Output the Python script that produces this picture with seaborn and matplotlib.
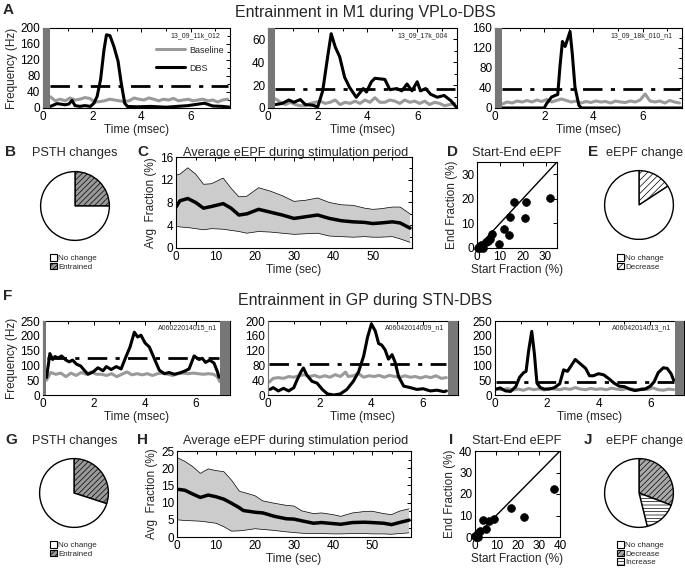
import numpy as np
import pandas as pd
import matplotlib
matplotlib.use('Agg')
import matplotlib.pyplot as plt
import seaborn as sns
from matplotlib.patches import Patch
from matplotlib.ticker import MultipleLocator, AutoMinorLocator

sns.set_theme(style='white')
plt.rcParams['font.family'] = ['Liberation Sans', 'DejaVu Sans']
plt.rcParams['hatch.linewidth'] = 0.5
plt.rcParams['axes.linewidth'] = 0.8

# ---------------- data ----------------
# A: M1 PSTHs (time in msec, frequency in Hz)
a1_dbs_t = [0.3, 0.57, 0.9, 1.05, 1.18, 1.3, 1.5, 1.7, 1.93, 2.07, 2.2, 2.34, 2.48, 2.58, 2.72, 2.88, 3.05, 3.18, 3.32, 3.43, 3.8, 4.38, 5.0, 5.9, 6.56, 6.9, 7.3, 7.6]
a1_dbs_f = [4, 11, 8, 10, 19, 6, 4, 6, 4, 12, 29, 71, 146, 183, 181, 154, 117, 62, 12, 4, 3, 4, 2, 6, 12, 5, 4, 2]
a2_dbs_t = [0.3, 0.57, 0.84, 1.04, 1.3, 1.5, 1.8, 2.0, 2.2, 2.4, 2.54, 2.71, 2.88, 3.08, 3.28, 3.55, 3.83, 3.96, 4.16, 4.3, 4.7, 4.9, 5.18, 5.38, 5.59, 5.79, 6.0, 6.13, 6.34, 6.54, 6.81, 7.08, 7.35, 7.6]
a2_dbs_f = [3, 4, 7, 5, 7.4, 3, 2.4, 1, 15, 45, 65, 53, 45, 27, 18, 9.4, 17, 14, 23, 26, 25, 16, 17, 15, 21, 15, 23, 15, 17, 12, 9.4, 11, 6.5, 0]
a3_dbs_t = [0.3, 1.0, 2.0, 2.1, 2.3, 2.44, 2.55, 2.64, 2.74, 2.85, 2.95, 3.05, 3.14, 3.25, 3.41, 3.52, 5.0, 7.6]
a3_dbs_f = [0, 0, 0, 9, 22, 25, 27, 83, 133, 123, 138, 153, 109, 42, 5, 0, 0, 0]
base_t = [0.3, 0.5, 0.7, 0.9, 1.1, 1.3, 1.5, 1.7, 1.9, 2.1, 2.3, 2.5, 2.7, 2.9, 3.1, 3.3, 3.5, 3.7, 3.9, 4.1, 4.3, 4.5, 4.7, 4.9, 5.1, 5.3, 5.5, 5.7, 5.9, 6.1, 6.3, 6.5, 6.7, 6.9, 7.1, 7.3, 7.5]
a1_base_f = [28, 18, 22, 18, 25, 20, 22, 26, 24, 15, 16, 18, 22, 20, 18, 16, 18, 25, 22, 20, 25, 22, 18, 22, 20, 24, 18, 20, 22, 18, 20, 22, 18, 20, 15, 20, 22]
a2_base_f = [8, 5, 3, 5, 3, 2, 2, 4, 5, 6, 4, 5, 7, 3, 5, 4, 6, 4, 7, 5, 9, 5, 5, 7, 6, 4, 7, 5, 6, 4, 6, 3, 5, 4, 2, 3, 4]
a3_base_f = [8, 12, 10, 14, 12, 15, 12, 16, 13, 17, 12, 15, 18, 15, 12, 14, 10, 13, 11, 14, 12, 13, 10, 14, 12, 11, 14, 12, 16, 28, 14, 12, 14, 10, 15, 12, 10]
a_thresh = [55, 17, 39]
a_cells = ['13_09_11k_012', '13_09_17k_004', '13_09_18k_010_n1']

# F: GP PSTHs
f1_dbs_t = [0.14, 0.27, 0.38, 0.47, 0.6, 0.73, 0.9, 1.03, 1.16, 1.32, 1.48, 1.64, 1.77, 1.97, 2.16, 2.36, 2.49, 2.68, 2.88, 3.07, 3.24, 3.42, 3.59, 3.72, 3.85, 4.01, 4.18, 4.38, 4.57, 4.77, 4.96, 5.16, 5.35, 5.55, 5.74, 5.94, 6.13, 6.26, 6.39, 6.55, 6.72, 6.85, 6.92]
f1_dbs_f = [59, 140, 120, 130, 125, 132, 118, 112, 118, 104, 98, 82, 70, 78, 92, 82, 96, 86, 96, 88, 125, 162, 212, 196, 202, 176, 162, 122, 84, 72, 76, 70, 74, 80, 88, 132, 120, 124, 110, 118, 108, 80, 60]
f1_base_t = [0.14, 0.3, 0.5, 0.7, 0.9, 1.1, 1.3, 1.5, 1.7, 1.9, 2.1, 2.3, 2.5, 2.7, 2.9, 3.1, 3.3, 3.5, 3.7, 3.9, 4.1, 4.3, 4.5, 4.7, 4.9, 5.1, 5.3, 5.5, 5.7, 5.9, 6.1, 6.3, 6.5, 6.7, 6.85, 6.95]
f1_base_f = [50, 76, 70, 74, 62, 74, 66, 76, 70, 78, 70, 70, 66, 72, 62, 70, 78, 68, 72, 68, 72, 66, 72, 74, 70, 66, 72, 74, 72, 74, 72, 70, 72, 70, 62, 45]
f2_dbs_t = [0.08, 0.2, 0.4, 0.6, 0.8, 1.0, 1.1, 1.27, 1.37, 1.5, 1.7, 1.9, 2.1, 2.3, 2.55, 2.8, 3.05, 3.3, 3.5, 3.7, 3.85, 4.0, 4.15, 4.28, 4.4, 4.53, 4.66, 4.8, 4.92, 5.05, 5.25, 5.5, 5.76, 6.0, 6.28, 6.54, 6.8, 6.9]
f2_dbs_f = [15, 20, 11, 18, 11, 20, 37, 62, 73, 54, 37, 32, 15, 3, 0, 3, 15, 37, 62, 105, 156, 192, 173, 139, 135, 122, 97, 109, 88, 50, 24, 20, 15, 17, 11, 13, 9, 11]
f2_base_t = [0.05, 0.2, 0.4, 0.6, 0.8, 1.0, 1.2, 1.4, 1.6, 1.8, 2.0, 2.2, 2.4, 2.6, 2.8, 3.0, 3.1, 3.3, 3.5, 3.7, 3.9, 4.1, 4.3, 4.5, 4.7, 4.9, 5.1, 5.3, 5.5, 5.7, 5.9, 6.1, 6.3, 6.5, 6.7, 6.9]
f2_base_f = [35, 45, 47, 45, 50, 48, 52, 55, 50, 53, 48, 52, 48, 55, 50, 62, 50, 52, 58, 48, 52, 50, 53, 48, 53, 50, 48, 52, 48, 50, 46, 50, 47, 52, 45, 47]
f3_dbs_t = [0.05, 0.2, 0.4, 0.6, 0.8, 0.95, 1.1, 1.2, 1.3, 1.42, 1.52, 1.62, 1.75, 1.9, 2.1, 2.3, 2.5, 2.65, 2.8, 2.95, 3.1, 3.3, 3.5, 3.65, 3.8, 4.0, 4.2, 4.4, 4.6, 4.8, 5.0, 5.2, 5.4, 5.6, 5.8, 6.0, 6.15, 6.3, 6.5, 6.65, 6.8, 6.9]
f3_dbs_f = [20, 24, 14, 12, 28, 60, 75, 80, 150, 215, 140, 40, 25, 20, 20, 25, 38, 85, 80, 100, 120, 105, 90, 65, 65, 72, 68, 55, 40, 30, 28, 20, 15, 18, 20, 30, 45, 75, 92, 90, 72, 50]
f3_base_t = [0.05, 0.3, 0.5, 0.7, 0.9, 1.1, 1.3, 1.5, 1.7, 1.9, 2.1, 2.3, 2.5, 2.7, 2.9, 3.1, 3.3, 3.5, 3.7, 3.9, 4.1, 4.3, 4.5, 4.7, 4.9, 5.1, 5.3, 5.5, 5.7, 5.9, 6.1, 6.3, 6.5, 6.7, 6.9]
f3_base_f = [20, 18, 22, 17, 20, 16, 22, 18, 21, 17, 23, 20, 18, 22, 19, 25, 20, 18, 22, 19, 21, 18, 23, 20, 18, 22, 20, 17, 22, 19, 24, 18, 16, 20, 18]
f_thresh = [125, 85, 45]
f_cells = ['A06022014015_n1', 'A06042014009_n1', 'A06042014013_n1']

# C / H: average eEPF (time in sec, fraction in %)
c_t = [0, 1, 3, 5, 7, 9, 12, 14, 16, 18, 21, 24, 27, 30, 33, 36, 39, 42, 45, 48, 50, 52, 55, 57, 59.5]
c_mean = [7.2, 8.3, 8.7, 8.0, 7.0, 7.3, 7.8, 7.0, 5.8, 6.0, 6.8, 6.3, 5.8, 5.2, 5.5, 5.8, 5.2, 4.8, 4.6, 4.5, 4.3, 4.4, 4.6, 4.4, 3.5]
c_up = [12.8, 13.0, 14.1, 13.0, 11.2, 11.3, 12.3, 10.5, 9.0, 9.1, 10.6, 10.0, 9.2, 8.2, 8.4, 8.8, 8.0, 7.6, 7.5, 7.0, 6.8, 6.9, 7.2, 7.2, 6.0]
c_lo = [3.8, 3.7, 3.6, 3.4, 3.2, 3.4, 3.3, 3.1, 2.9, 2.6, 2.9, 2.8, 2.6, 2.4, 2.5, 2.6, 2.1, 2.0, 1.9, 2.0, 1.9, 1.9, 2.0, 1.6, 1.0]
h_t = [0, 2, 4, 6, 8, 10, 12, 14, 16, 17, 20, 22, 25, 28, 30, 32, 35, 37, 40, 42, 45, 48, 50, 53, 55, 57, 59.5]
h_mean = [13.9, 13.6, 12.5, 11.5, 12.2, 11.7, 11.0, 9.8, 8.5, 7.7, 7.2, 7.0, 6.0, 5.3, 5.2, 4.7, 4.0, 4.2, 3.9, 3.7, 4.2, 4.3, 4.2, 4.0, 3.6, 4.2, 4.9]
h_up = [23.1, 22.0, 20.5, 18.5, 19.8, 19.3, 19.0, 16.5, 13.3, 13.0, 12.0, 10.5, 9.8, 9.2, 9.0, 7.6, 6.8, 7.0, 6.5, 6.0, 7.0, 7.4, 7.5, 6.8, 6.5, 7.5, 8.2]
h_lo = [5.0, 4.8, 4.7, 4.6, 4.3, 4.0, 3.0, 1.7, 1.8, 1.9, 2.4, 2.2, 1.9, 1.5, 1.3, 1.1, 1.0, 1.0, 0.9, 0.9, 1.0, 1.0, 0.9, 0.9, 0.8, 1.0, 1.2]

# D / I: start vs end eEPF (%)
d_start = [0.3, 0.8, 1.2, 1.6, 2.2, 2.8, 4.0, 5.0, 5.7, 6.4, 9.7, 11.9, 13.9, 14.6, 16.1, 21.0, 21.4, 31.8]
d_end = [0.2, 0.6, 0.1, 1.3, 0.4, 0.1, 2.4, 3.0, 3.5, 5.8, 1.7, 7.9, 5.3, 12.8, 18.8, 12.2, 18.8, 20.5]
i_start = [0.0, 0.5, 1.0, 1.6, 2.4, 3.6, 5.2, 6.8, 9.0, 16.8, 23.2, 37.2, 1.2]
i_end = [0.3, 0.0, 0.3, 1.8, 2.7, 7.7, 3.5, 7.4, 8.3, 13.7, 9.3, 22.4, 0.0]

# pies
b_labels = ['Entrained', 'No change']
b_vals = [25, 75]
e_labels = ['Decrease', 'No change']
e_vals = [3, 16]
g_labels = ['Entrained', 'No change']
g_vals = [30, 70]
j_labels = ['Decrease', 'Increase', 'No change']
j_vals = [4, 2, 7]

# ---------------- figure ----------------
W, H = 685, 571
fig = plt.figure(figsize=(W / 100, H / 100), dpi=100)


def px_axes(x0, y0, x1, y1):
    return fig.add_axes([x0 / W, 1 - y1 / H, (x1 - x0) / W, (y1 - y0) / H])


def ftext(x, y, s, **kw):
    fig.text(x / W, 1 - y / H, s, **kw)


def style(ax, fs=8.5):
    ax.tick_params(direction='in', top=True, right=True, length=3, width=0.7,
                   labelsize=fs, pad=2, colors='black', which='both')
    ax.tick_params(which='minor', length=2)
    for s in ax.spines.values():
        s.set_color('black')
        s.set_linewidth(0.8)


GRAY = '#9a9a9a'
BAR = '#777777'
DASH = (0, (7, 3, 1.5, 3))


def psth(ax, bt, bf, dt, df, thr, thr_span, ymax, ystep, xmax, cell, cell_x, bars, ylabel=False):
    sns.lineplot(x=bt, y=bf, ax=ax, color=GRAY, lw=2.2, estimator=None, sort=False)
    sns.lineplot(x=dt, y=df, ax=ax, color='black', lw=2.2, estimator=None, sort=False)
    ax.plot(thr_span, [thr, thr], color='black', lw=2, linestyle=DASH)
    for (b0, b1) in bars:
        ax.axvspan(b0, b1, color=BAR, lw=0, zorder=3)
    ax.set_xlim(0, xmax)
    ax.set_ylim(0, ymax)
    ax.xaxis.set_major_locator(MultipleLocator(2))
    ax.xaxis.set_minor_locator(MultipleLocator(1))
    ax.yaxis.set_major_locator(MultipleLocator(ystep))
    ax.yaxis.set_minor_locator(AutoMinorLocator(2))
    ax.set_xlabel('Time (msec)', fontsize=8.5, labelpad=1)
    ax.set_ylabel('Frequency (Hz)' if ylabel else '', fontsize=8.5, labelpad=2)
    ax.text(cell_x, 0.95, cell, transform=ax.transAxes, ha='right', va='top', fontsize=5)
    style(ax)


# Row A
a_axes = [px_axes(43, 28, 230, 108), px_axes(268, 28, 457, 108), px_axes(495, 28, 682, 108)]
psth(a_axes[0], base_t, a1_base_f, a1_dbs_t, a1_dbs_f, a_thresh[0], [0.3, 7.5], 200, 40, 7.6, a_cells[0], 0.95, [(0, 0.3)], True)
psth(a_axes[1], base_t, a2_base_f, a2_dbs_t, a2_dbs_f, a_thresh[1], [0.3, 7.5], 70, 20, 7.6, a_cells[1], 0.95, [(0, 0.3)])
psth(a_axes[2], base_t, a3_base_f, a3_dbs_t, a3_dbs_f, a_thresh[2], [0.3, 7.5], 160, 40, 7.6, a_cells[2], 0.95, [(0, 0.3)])
a_axes[0].legend(handles=[plt.Line2D([], [], color=GRAY, lw=2.2), plt.Line2D([], [], color='black', lw=2.2)],
                 labels=['Baseline', 'DBS'], loc='upper right', bbox_to_anchor=(1.0, 0.86),
                 frameon=False, fontsize=6.5, handlelength=3.2, labelspacing=1.0, borderpad=0.2,
                 handletextpad=0.5)

# Row F
f_axes = [px_axes(43, 321, 230, 395), px_axes(268, 321, 458, 395), px_axes(495, 321, 684, 395)]
psth(f_axes[0], f1_base_t, f1_base_f, f1_dbs_t, f1_dbs_f, f_thresh[0], [0.15, 6.9], 250, 50, 7.35, f_cells[0], 0.93, [(0, 0.12), (6.95, 7.35)], True)
psth(f_axes[1], f2_base_t, f2_base_f, f2_dbs_t, f2_dbs_f, f_thresh[1], [0.05, 6.9], 200, 40, 7.35, f_cells[1], 0.93, [(0, 0.04), (6.95, 7.35)])
psth(f_axes[2], f3_base_t, f3_base_f, f3_dbs_t, f3_dbs_f, f_thresh[2], [0.05, 6.9], 250, 50, 7.3, f_cells[2], 0.935, [(6.95, 7.3)])


def eepf(ax, t, m, up, lo, ymax, ystep, xlabel):
    ax.fill_between(t, lo, up, facecolor='#cccccc', edgecolor='none')
    sns.lineplot(x=t, y=up, ax=ax, color='black', lw=0.5, estimator=None)
    sns.lineplot(x=t, y=lo, ax=ax, color='black', lw=0.5, estimator=None)
    sns.lineplot(x=t, y=m, ax=ax, color='black', lw=2.5, estimator=None)
    ax.set_xlim(0, 60)
    ax.set_ylim(0, ymax)
    ax.xaxis.set_major_locator(MultipleLocator(10))
    ax.xaxis.set_minor_locator(MultipleLocator(5))
    ax.yaxis.set_major_locator(MultipleLocator(ystep))
    ax.yaxis.set_minor_locator(AutoMinorLocator(2))
    ax.set_xticks([0, 10, 20, 30, 40, 50])
    ax.set_xlabel(xlabel, fontsize=8.5, labelpad=1)
    ax.set_ylabel('Avg  Fraction (%)', fontsize=8.5, labelpad=2)
    style(ax)


def scatter(ax, xs, ys, lim, step):
    sns.scatterplot(x=xs, y=ys, ax=ax, color='black', s=32, edgecolor='black', zorder=3, clip_on=False)
    ax.plot([0, lim], [0, lim], color='black', lw=1)
    ax.set_xlim(0, lim)
    ax.set_ylim(0, lim)
    ax.xaxis.set_major_locator(MultipleLocator(step))
    ax.yaxis.set_major_locator(MultipleLocator(step))
    ax.set_xlabel('Start Fraction (%)', fontsize=8.5, labelpad=1)
    ax.set_ylabel('End Fraction (%)', fontsize=8.5, labelpad=2)
    style(ax)


def pie(ax, vals, labels, styles, leg_xy):
    faces = [s[0] for s in styles]
    wedges, _ = ax.pie(vals, startangle=90, counterclock=False, colors=faces,
                       wedgeprops=dict(edgecolor='black', linewidth=1))
    for w, s in zip(wedges, styles):
        w.set_hatch(s[1])
    ax.set_aspect('equal')
    # legend: "No change" first, then the others in order
    handles = [Patch(facecolor='white', edgecolor='black', lw=0.8)]
    names = ['No change']
    for i in range(len(vals)):
        if labels[i] != 'No change':
            handles.append(Patch(facecolor=styles[i][0], edgecolor='black', hatch=styles[i][1], lw=0.8))
            names.append(labels[i])
    fig.legend(handles, names, loc='upper left', bbox_to_anchor=(leg_xy[0] / W, 1 - leg_xy[1] / H),
               frameon=False, fontsize=5.8, handlelength=0.9, handleheight=0.9,
               handletextpad=0.15, labelspacing=0.05, borderpad=0, borderaxespad=0)


# Row B-E
ax_b = px_axes(32, 163, 118, 249)
pie(ax_b, b_vals, b_labels, [('#999999', '//////'), ('white', '')], (50, 254))
ax_c = px_axes(176, 157, 412, 248)
eepf(ax_c, c_t, c_mean, c_up, c_lo, 16, 4, 'Time (sec)')
ax_d = px_axes(477, 162, 557, 248)
scatter(ax_d, d_start, d_end, 35, 10)
ax_e = px_axes(596, 162, 682, 248)
pie(ax_e, e_vals, e_labels, [('white', '/////'), ('white', '')], (617, 254))

# Row G-J
ax_g = px_axes(31, 450, 117, 536)
pie(ax_g, g_vals, g_labels, [('#999999', '//////'), ('white', '')], (50, 541))
ax_h = px_axes(177, 451, 411, 537)
eepf(ax_h, h_t, h_mean, h_up, h_lo, 25, 5, 'Time (sec)')
ax_i = px_axes(475, 451, 560, 537)
scatter(ax_i, i_start, i_end, 40, 10)
ax_j = px_axes(596, 450, 682, 536)
pie(ax_j, j_vals, j_labels, [('#aaaaaa', '//////'), ('white', '-----'), ('white', '')], (617, 541))

# titles and panel letters
ftext(365, 13, 'Entrainment in M1 during VPLo-DBS', ha='center', va='center', fontsize=11.5)
ftext(365, 300, 'Entrainment in GP during STN-DBS', ha='center', va='center', fontsize=11.5)
for x, y in [(0, 153), (0, 441)]:
    ftext(75, y, 'PSTH changes', ha='center', va='center', fontsize=9.2)
    ftext(296, y, 'Average eEPF during stimulation period', ha='center', va='center', fontsize=9.2)
    ftext(517, y, 'Start-End eEPF', ha='center', va='center', fontsize=9.2)
    ftext(683, y, 'eEPF change', ha='right', va='center', fontsize=9.2)
for x, y, s in [(8, 10, 'A'), (11, 152, 'B'), (143, 152, 'C'), (453, 152, 'D'), (593, 152, 'E'),
                (8, 296, 'F'), (11, 440, 'G'), (143, 440, 'H'), (451, 440, 'I'), (588, 440, 'J')]:
    ftext(x, y, s, ha='center', va='center', fontsize=11, fontweight='bold')

fig.savefig('out.png', dpi=100)
